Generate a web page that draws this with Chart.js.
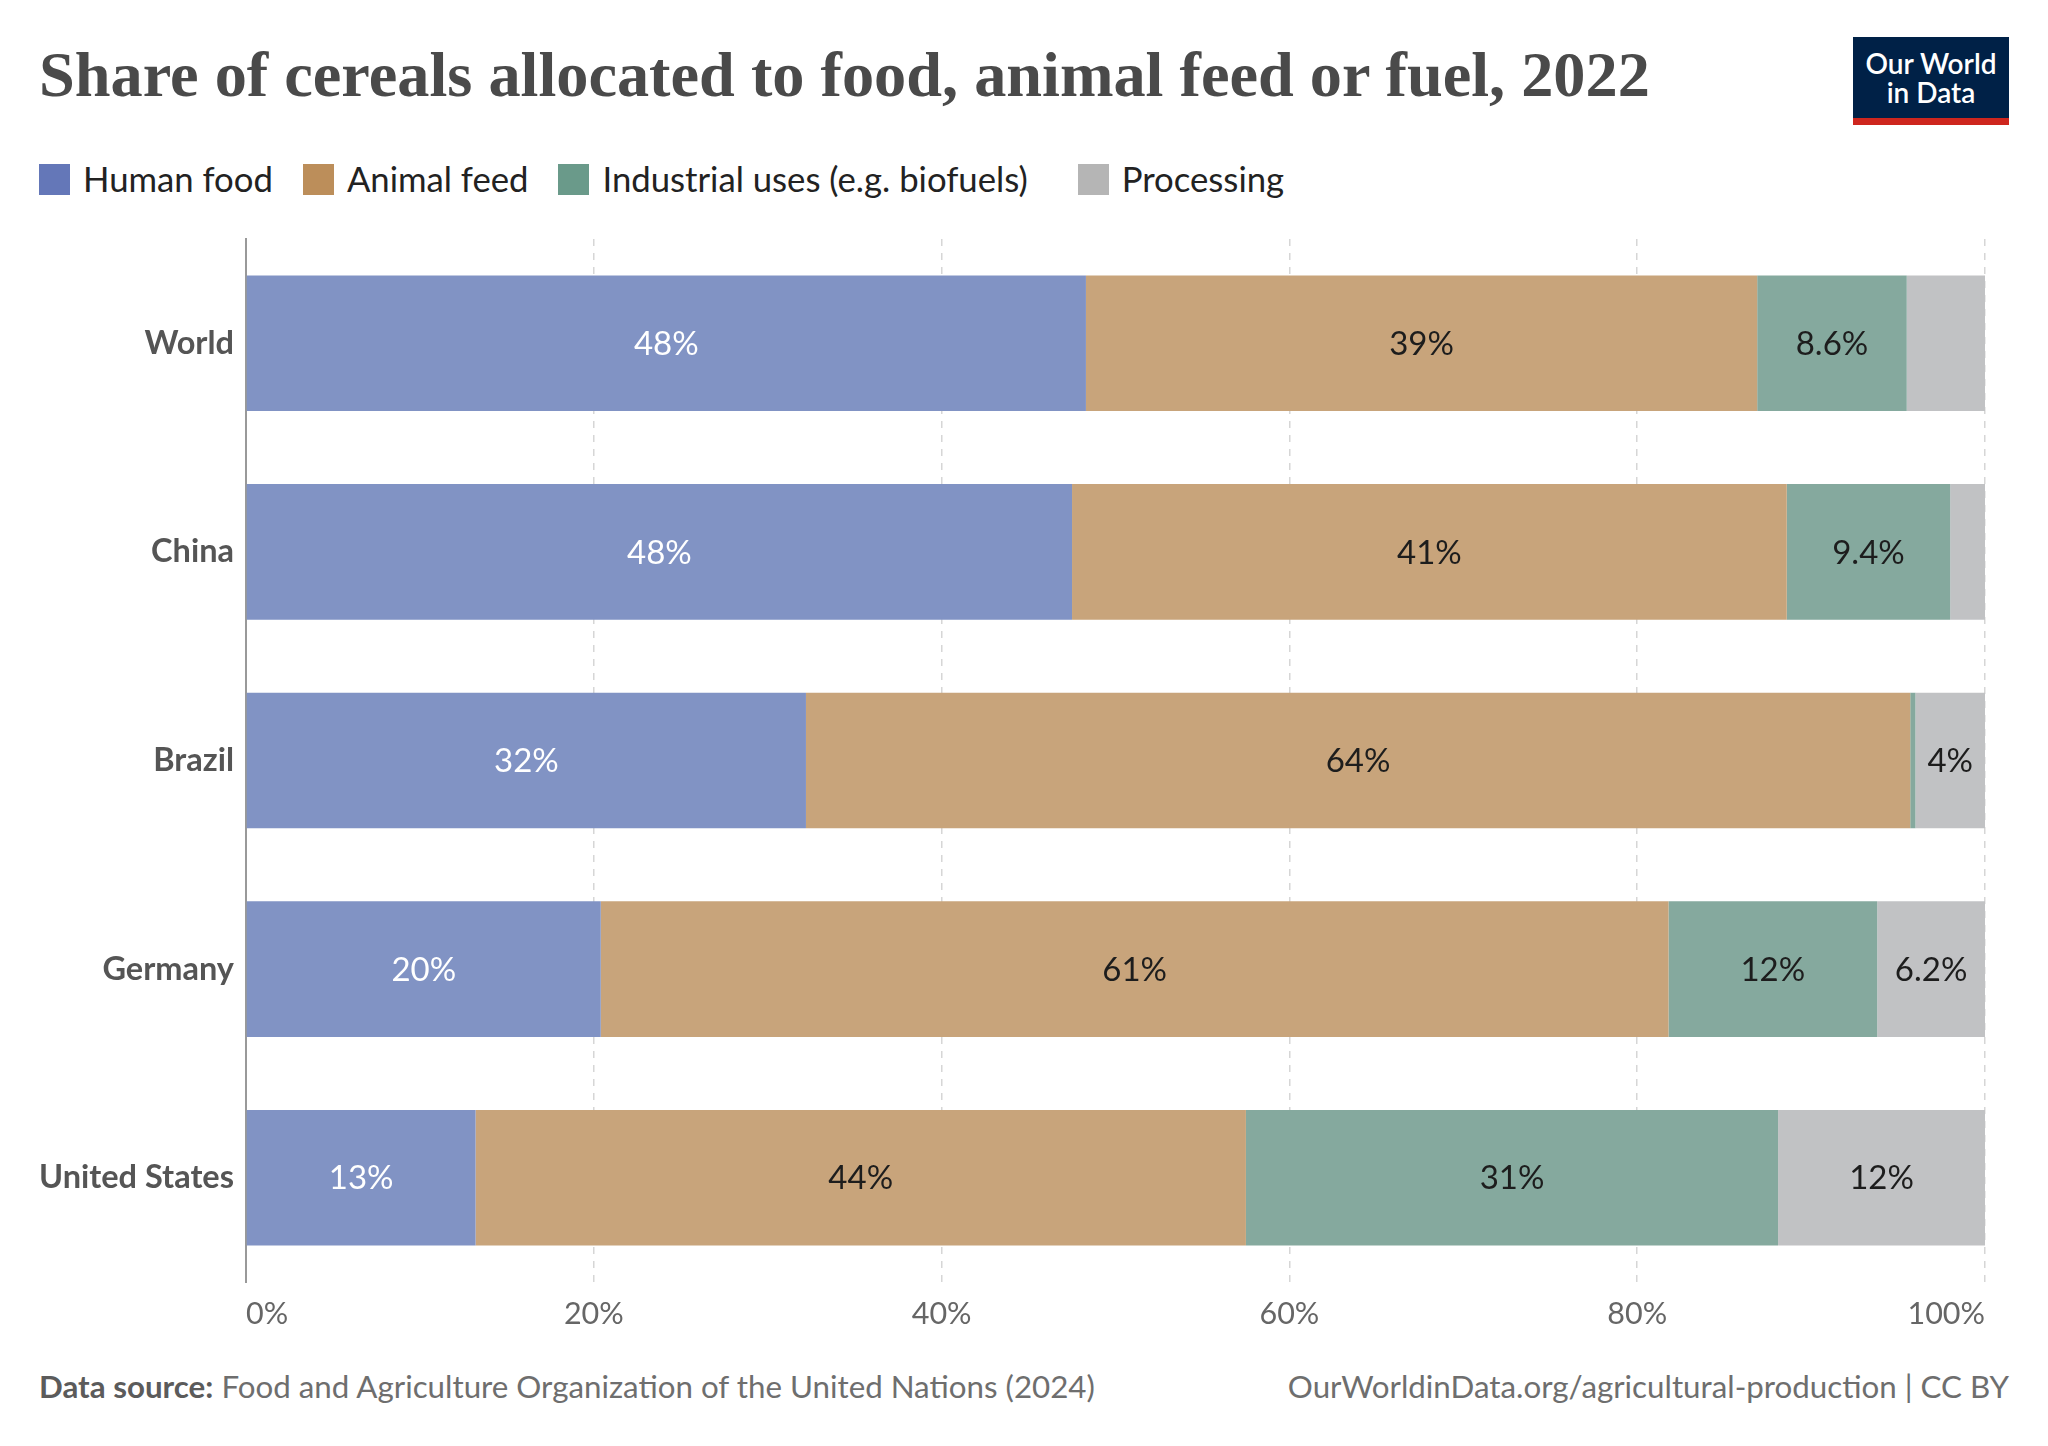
<!DOCTYPE html>
<html>
<head>
<meta charset="utf-8">
<script src="https://cdn.jsdelivr.net/npm/chart.js@4.4.1/dist/chart.umd.min.js"></script>
<style>
  body { margin: 0; width: 2048px; height: 1446px; background: #fff; font-family: Lato, sans-serif; position: relative; overflow: hidden; }
  #title { position: absolute; left: 39px; top: 38px; font-family: "Liberation Serif", serif; font-weight: 700; font-size: 64.3px; color: #4a4a4a; white-space: nowrap; }
  #logo { position: absolute; left: 1853px; top: 37px; width: 156px; height: 81px; background: #002147; border-bottom: 7px solid #ce261e;
          color: #fff; font-family: Lato; font-weight: 600; font-size: 28px; line-height: 29px; text-align: center;
          display: flex; align-items: center; justify-content: center; }
  #legend { position: absolute; left: 39px; top: 158px; display: flex; align-items: center; font-size: 34.7px; line-height: 42px; color: #222; }
  .item { display: flex; align-items: center; margin-right: 30px; }
  .item:nth-child(3) { margin-right: 50px; }
  .swatch { width: 31px; height: 31px; margin-right: 13px; }
  #wrap { position: absolute; left: 0; top: 220px; width: 2048px; height: 1130px; }
  #footer { position: absolute; left: 39px; right: 39px; top: 1367px; font-size: 31.3px; color: #6e6e6e; display: flex; justify-content: space-between; }
  #footer b { color: #5b5b5b; }
</style>
</head>
<body>
<div id="title">Share of cereals allocated to food, animal feed or fuel, 2022</div>
<div id="logo">Our World<br>in Data</div>
<div id="legend"></div>
<div id="wrap"><canvas id="cereal-chart"></canvas></div>
<div id="footer">
  <span><b>Data source:</b> Food and Agriculture Organization of the United Nations (2024)</span>
  <span>OurWorldinData.org/agricultural-production | CC BY</span>
</div>
<script>
const countries = ['World', 'China', 'Brazil', 'Germany', 'United States'];
const seriesNames = ['Human food', 'Animal feed', 'Industrial uses (e.g. biofuels)', 'Processing'];
const humanFood  = [48.3, 47.5, 32.2, 20.4, 13.2];
const animalFeed = [38.6, 41.1, 63.5, 61.4, 44.3];
const industrial = [8.6, 9.4, 0.3, 12.0, 30.6];
const processing = [4.5, 2.0, 4.0, 6.2, 11.9];
const xTicks = [0, 20, 40, 60, 80, 100];

const barColors = ['#8193c4', '#c8a47b', '#85a99e', '#c1c2c4'];
const legendColors = ['#6477b8', '#bc8e5a', '#6a9a8a', '#b5b5b5'];
const labelColors = ['#fff', '#1d1d1d', '#1d1d1d', '#1d1d1d'];

function fmtPct(v) {
  if (v >= 10) return Math.round(v) + '%';
  return parseFloat(v.toFixed(1)) + '%';
}

function buildLegend() {
  const el = document.getElementById('legend');
  el.innerHTML = seriesNames.map((name, i) => `<div class="item">
    <div class="swatch" style="background:${legendColors[i]}"></div><span>${name}</span></div>`).join('');
}

// value labels inside each segment, only when they fit
const barLabels = {
  id: 'barLabels',
  afterDatasetsDraw(chart) {
    const ctx = chart.ctx;
    ctx.save();
    ctx.font = '33px Lato';
    ctx.textAlign = 'center';
    ctx.textBaseline = 'middle';
    chart.data.datasets.forEach((ds, di) => {
      const meta = chart.getDatasetMeta(di);
      meta.data.forEach((bar, i) => {
        const txt = fmtPct(ds.data[i]);
        const w = Math.abs(bar.x - bar.base);
        if (ctx.measureText(txt).width + 16 > w) return;
        ctx.fillStyle = labelColors[di];
        ctx.fillText(txt, (bar.x + bar.base) / 2, bar.y + 1);
      });
    });
    ctx.restore();
  }
};

// x tick labels: first left aligned, last right aligned, rest centered
const xTickLabels = {
  id: 'xTickLabels',
  afterDraw(chart) {
    const ctx = chart.ctx;
    const sc = chart.scales.x;
    ctx.save();
    ctx.font = '30.5px Lato';
    ctx.fillStyle = '#666';
    ctx.textBaseline = 'middle';
    xTicks.forEach((v, i) => {
      ctx.textAlign = i === 0 ? 'left' : (i === xTicks.length - 1 ? 'right' : 'center');
      ctx.fillText(v + '%', sc.getPixelForValue(v), chart.chartArea.bottom + 32);
    });
    ctx.restore();
  }
};

function renderChart() {
  const ctx = document.getElementById('cereal-chart');
  const series = [humanFood, animalFeed, industrial, processing];
  new Chart(ctx, {
    type: 'bar',
    data: {
      labels: countries,
      datasets: series.map((d, i) => ({
        label: seriesNames[i],
        data: d,
        backgroundColor: barColors[i],
        borderWidth: 0,
        barPercentage: 0.65,
        categoryPercentage: 1
      }))
    },
    options: {
      indexAxis: 'y',
      responsive: true,
      maintainAspectRatio: false,
      animation: false,
      layout: { padding: { top: 19, right: 63, bottom: 0, left: 0 } },
      plugins: { legend: { display: false }, tooltip: { enabled: false } },
      scales: {
        x: {
          stacked: true, min: 0, max: 100,
          afterBuildTicks: sc => { sc.ticks = xTicks.map(v => ({ value: v })); },
          afterFit: sc => { sc.height = 68; sc.paddingLeft = 0; sc.paddingRight = 0; },
          ticks: { display: false },
          grid: { color: c => c.tick && c.tick.value === 0 ? 'rgba(0,0,0,0)' : '#d6d6d6', lineWidth: 1.5, drawTicks: false },
          border: { display: false, dash: [7, 7] }
        },
        y: {
          stacked: true,
          afterFit: sc => { sc.width = 246; sc.paddingTop = 0; sc.paddingBottom = 0; },
          ticks: { color: '#555', font: { family: 'Lato', weight: 'bold', size: 32.5 }, padding: 12 },
          grid: { display: false, drawTicks: false },
          border: { display: true, color: '#999', width: 2 }
        }
      }
    },
    plugins: [barLabels, xTickLabels]
  });
}

buildLegend();
renderChart();
</script>
</body>
</html>
